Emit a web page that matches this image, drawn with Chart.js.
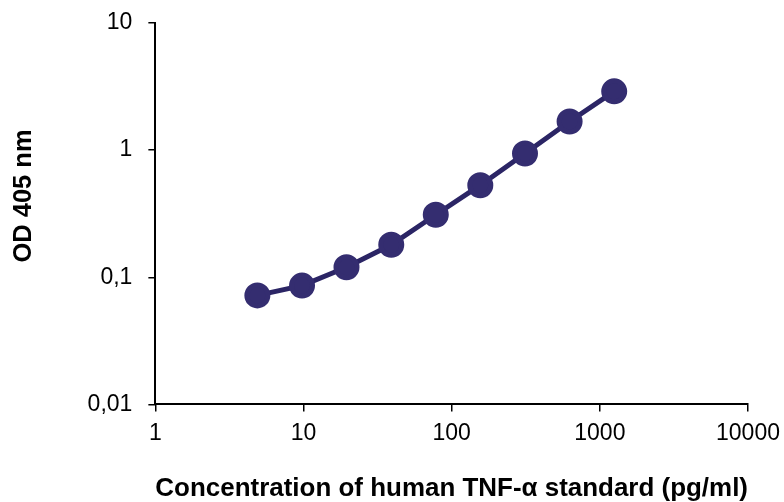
<!DOCTYPE html>
<html lang="en">
<head>
    <meta charset="UTF-8">
    <title>TNF-alpha standard curve</title>
    <script src="https://cdn.jsdelivr.net/npm/chart.js"></script>
    <style>
      html, body { margin: 0; padding: 0; background: #fff; }
      #wrap { width: 784px; height: 502px; }
    </style>
</head>
<body>
  <div id="wrap"><canvas id="chart"></canvas></div>

  <script>
    // standard concentrations (pg/ml) and measured OD
    const conc = [4.88, 9.77, 19.5, 39.1, 78.1, 156, 312.5, 625, 1250];
    const od = [0.072, 0.086, 0.12, 0.18, 0.31, 0.53, 0.94, 1.68, 2.9];

    const xTicks = [1, 10, 100, 1000, 10000];
    const xTickLabels = ['1', '10', '100', '1000', '10000'];
    const yTicks = [0.01, 0.1, 1, 10];
    const yTickLabels = ['0,01', '0,1', '1', '10'];

    const points = [];
    for (let i in conc) {
      points.push({x: conc[i], y: od[i]});
    }

    const font = 'Liberation Sans, Arial, sans-serif';

    new Chart(document.querySelector('#chart'), {
      type: 'scatter',
      data: {
        datasets: [{
          data: points,
          showLine: true,
          borderColor: '#2b2565',
          borderWidth: 5,
          pointBackgroundColor: '#342d70',
          pointBorderColor: '#342d70',
          pointRadius: 10.5,
          pointHoverRadius: 10.5,
        }]
      },
      options: {
        responsive: true,
        maintainAspectRatio: false,
        animation: false,
        layout: { padding: { top: 0, right: 0, left: 9, bottom: 0 } },
        plugins: { legend: { display: false }, tooltip: { enabled: false } },
        scales: {
          x: {
            type: 'logarithmic',
            min: 1, max: 10000,
            afterBuildTicks: (axis) => { axis.ticks = xTicks.map(v => ({value: v})); },
            afterFit: (axis) => { axis.paddingRight = 36; },
            ticks: {
              autoSkip: false, maxRotation: 0,
              color: '#000', font: { family: font, size: 23 }, padding: 8,
              callback: (v) => xTickLabels[xTicks.indexOf(v)]
            },
            grid: { drawOnChartArea: false, drawTicks: true, tickLength: 7, color: '#000', lineWidth: 1.5 },
            border: { color: '#000', width: 2 },
            title: {
              display: true, text: 'Concentration of human TNF-\u03b1 standard (pg/ml)',
              color: '#000', font: { family: font, size: 26, weight: 'bold', lineHeight: 1.0 },
              padding: { top: 21, bottom: 0 }
            }
          },
          y: {
            type: 'logarithmic',
            min: 0.01, max: 10,
            afterBuildTicks: (axis) => { axis.ticks = yTicks.map(v => ({value: v})); },
            afterFit: (axis) => { axis.paddingTop = 23; },
            ticks: {
              autoSkip: false,
              color: '#000', font: { family: font, size: 23 }, padding: 16,
              callback: (v) => yTickLabels[yTicks.indexOf(v)]
            },
            grid: { drawOnChartArea: false, drawTicks: true, tickLength: 7, color: '#000', lineWidth: 1.5 },
            border: { color: '#000', width: 2 },
            title: {
              // leading spaces push the title up a little, as in the original
              display: true, text: '\u00a0\u00a0\u00a0\u00a0\u00a0OD 405 nm',
              color: '#000', font: { family: font, size: 25.5, weight: 'bold' }, padding: { top: 0, bottom: 32 }
            }
          }
        }
      }
    });
  </script>
</body>
</html>
